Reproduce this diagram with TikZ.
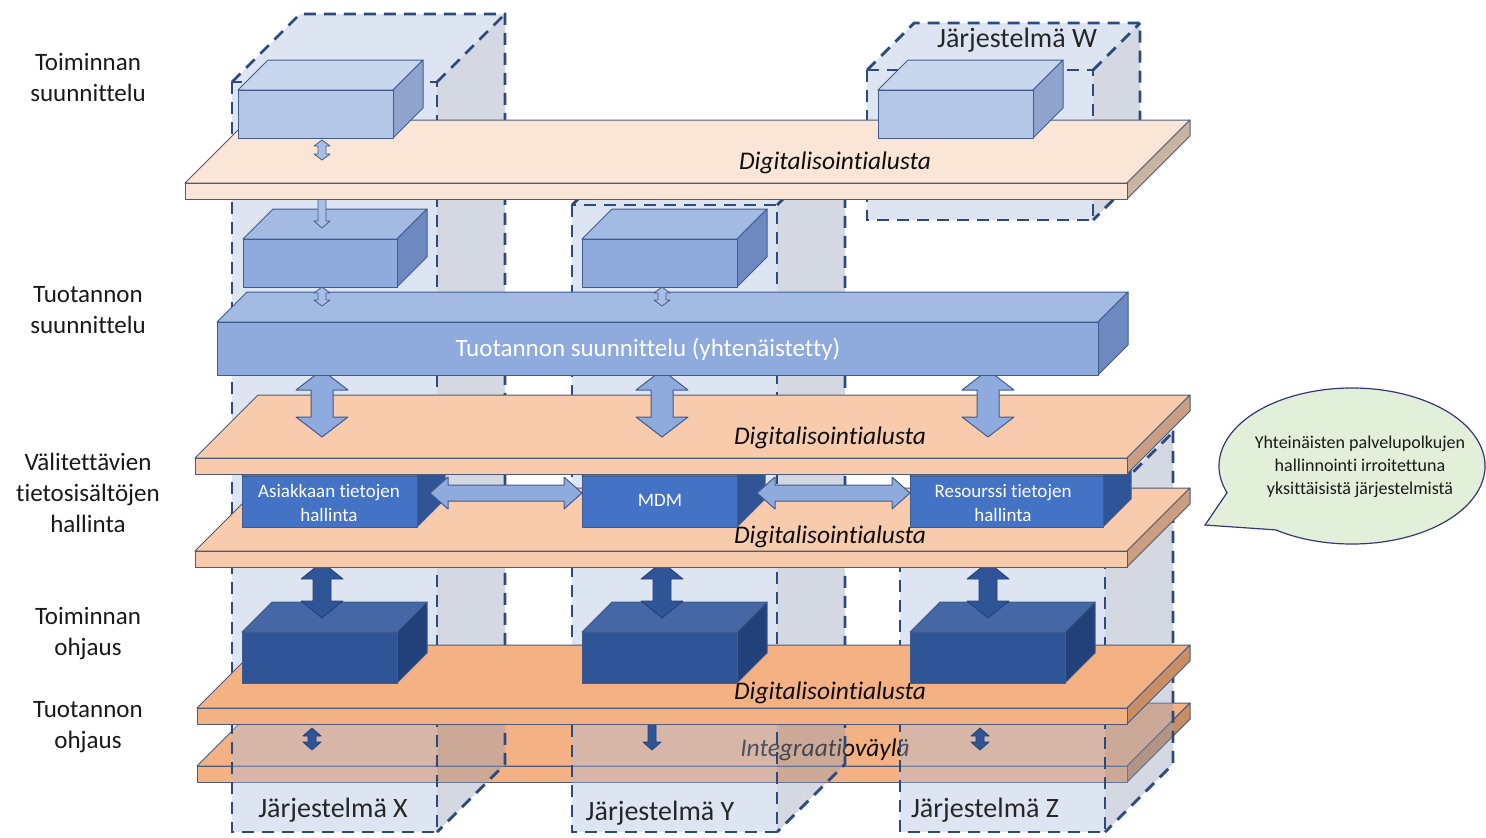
\documentclass[tikz,border=0pt]{standalone}
\usepackage{fontspec}
\setmainfont{Carlito}[Ligatures=NoCommon]
\usepackage{xcolor}

\definecolor{sysblue}{HTML}{2E4A7D}
\definecolor{sysfill}{HTML}{ACBEDE}
\definecolor{sysshade}{HTML}{919EB7}
\definecolor{edgeblue}{HTML}{3F5C8F}
\definecolor{slabline}{HTML}{4D5B78}
\definecolor{peachA}{HTML}{FBE5D6}
\definecolor{peachAside}{HTML}{C8B2A2}
\definecolor{peachB}{HTML}{F8CBAD}
\definecolor{peachBside}{HTML}{C99E82}
\definecolor{peachC}{HTML}{F4B183}
\definecolor{peachCside}{HTML}{C98E63}
\definecolor{paleA}{HTML}{B4C7E7}
\definecolor{paleAtop}{HTML}{C8D6EE}
\definecolor{paleAside}{HTML}{8EA4CD}
\definecolor{midA}{HTML}{8FAADC}
\definecolor{midAtop}{HTML}{A3BAE3}
\definecolor{midAside}{HTML}{6E89C0}
\definecolor{strongA}{HTML}{4472C4}
\definecolor{strongAtop}{HTML}{5A82C9}
\definecolor{strongAside}{HTML}{2F5597}
\definecolor{deepA}{HTML}{2F5597}
\definecolor{deepAtop}{HTML}{4667A6}
\definecolor{deepAside}{HTML}{22417A}
\definecolor{bubblefill}{HTML}{E2EFD9}

\tikzstyle{boxedge}=[draw=edgeblue, line width=0.5pt, line join=round]
\tikzstyle{slabedge}=[draw=slabline, line width=0.5pt, line join=round]
\tikzstyle{sysfront}=[fill=sysfill, fill opacity=0.4]
\tikzstyle{sysside}=[fill=sysshade, fill opacity=0.4]
\tikzstyle{sysline}=[draw=sysblue, line width=1.4pt, dash pattern=on 6pt off 4pt]
\tikzstyle{lightarrow}=[fill=midA, draw=edgeblue, line width=0.5pt, line join=round]
\tikzstyle{palearrow}=[fill=paleA!70!midA, draw=edgeblue, line width=0.4pt, line join=round]
\tikzstyle{darkarrow}=[fill=deepA, draw=deepAside, line width=0.4pt, line join=round]
\tikzstyle{layertext}=[align=center, text=black!90, font=\fontsize{12.5}{15.5}\selectfont]
\tikzstyle{slabtext}=[text=black!95, font=\fontsize{12.7}{15}\selectfont\itshape]
\tikzstyle{systext}=[text=black!85, font=\fontsize{14}{16}\selectfont]
\tikzstyle{boxtext}=[align=center, text=white, font=\fontsize{9.5}{12}\selectfont]
\tikzstyle{bigboxtext}=[text=white, font=\fontsize{12.5}{15}\selectfont]
\tikzstyle{bubbleshape}=[draw=gray!60!blue!70!black, fill=bubblefill, line width=0.6pt]
\tikzstyle{bubbletext}=[align=center, text=black!90, font=\fontsize{9}{11.5}\selectfont]

% front top-left x,y / front bottom-right x,y / depth
\newcommand{\cuboid}[8]{%
  \filldraw[boxedge,fill=#1] (#4,#5) -- (#4+#8,#5-#8) -- (#6+#8,#5-#8) -- (#6,#5) -- cycle;
  \filldraw[boxedge,fill=#3] (#6,#5) -- (#6+#8,#5-#8) -- (#6+#8,#7-#8) -- (#6,#7) -- cycle;
  \filldraw[boxedge,fill=#2] (#4,#5) rectangle (#6,#7);
}
\newcommand{\slab}[6]{%
  \filldraw[slabedge,fill=#1] (#3,#4) -- (#3+#6,#4-#6) -- (#5+#6,#4-#6) -- (#5,#4) -- cycle;
  \filldraw[slabedge,fill=#2] (#5,#4) -- (#5+#6,#4-#6) -- (#5+#6,#4-#6+16) -- (#5,#4+16) -- cycle;
  \filldraw[slabedge,fill=#1] (#3,#4) rectangle (#5,#4+16);
}
\newcommand{\sysprism}[5]{%
  \fill[sysfront] (#1,#2) rectangle (#3,#4);
  \fill[sysside] (#3,#2) -- (#3+#5,#2-#5) -- (#3+#5,#4-#5) -- (#3,#4) -- cycle;
  \fill[sysfront] (#1,#2) -- (#1+#5,#2-#5) -- (#3+#5,#2-#5) -- (#3,#2) -- cycle;
  \draw[sysline] (#1,#2) rectangle (#3,#4);
  \draw[sysline] (#1,#2) -- (#1+#5,#2-#5) -- (#3+#5,#2-#5) -- (#3+#5,#4-#5) -- (#3,#4);
  \draw[sysline] (#3,#2) -- (#3+#5,#2-#5);
}
\newcommand{\vdarrow}[7]{%
  \filldraw[#1] (#2,#3) -- (#2+#6,#3+#7) -- (#2+#5,#3+#7) -- (#2+#5,#4-#7) -- (#2+#6,#4-#7)
    -- (#2,#4) -- (#2-#6,#4-#7) -- (#2-#5,#4-#7) -- (#2-#5,#3+#7) -- (#2-#6,#3+#7) -- cycle;
}
\newcommand{\hdarrow}[7]{%
  \filldraw[#1] (#3,#2) -- (#3+#7,#2-#6) -- (#3+#7,#2-#5) -- (#4-#7,#2-#5) -- (#4-#7,#2-#6)
    -- (#4,#2) -- (#4-#7,#2+#6) -- (#4-#7,#2+#5) -- (#3+#7,#2+#5) -- (#3+#7,#2+#6) -- cycle;
}

\begin{document}
\begin{tikzpicture}[x=0.5pt,y=-0.5pt]
  \useasboundingbox (0,0) rectangle (1486,837);

  \slab{peachC}{peachCside}{197}{766}{1127}{63}
  \node[slabtext] (bus) at (825,750) {Integraatioväylä};

  \sysprism{232}{82}{437}{832}{68}
  \sysprism{572}{205}{777}{832}{68}
  \sysprism{900}{500}{1105}{832}{68}
  \sysprism{867}{70}{1093}{220}{47}
  \node[systext] (sysX) at (333,810) {Järjestelmä X};
  \node[systext] (sysY) at (660,813) {Järjestelmä Y};
  \node[systext] (sysZ) at (985,810) {Järjestelmä Z};
  \node[systext] (sysW) at (1017,40) {Järjestelmä W};

  \vdarrow{darkarrow}{312}{728}{750}{4}{9}{8}
  \vdarrow{darkarrow}{652}{712}{750}{4}{9}{8}
  \vdarrow{darkarrow}{980}{728}{750}{4}{9}{8}

  \slab{peachC}{peachCside}{197}{708}{1127}{63}
  \node[slabtext] (dig4) at (830,693) {Digitalisointialusta};
  \cuboid{deepAtop}{deepA}{deepAside}{242}{632}{397}{683}{30}
  \cuboid{deepAtop}{deepA}{deepAside}{582}{632}{737}{683}{30}
  \cuboid{deepAtop}{deepA}{deepAside}{910}{632}{1065}{683}{30}
  \vdarrow{darkarrow}{322}{562}{618}{9}{21}{17}
  \vdarrow{darkarrow}{662}{562}{618}{9}{21}{17}
  \vdarrow{darkarrow}{988}{562}{618}{9}{21}{17}

  \slab{peachB}{peachBside}{195}{551}{1127}{63}
  \node[slabtext] (dig3) at (830,537) {Digitalisointialusta};
  \cuboid{strongAtop}{strongA}{strongAside}{242}{476}{417}{527}{28}
  \cuboid{strongAtop}{strongA}{strongAside}{582}{476}{737}{527}{28}
  \cuboid{strongAtop}{strongA}{strongAside}{910}{476}{1103}{527}{28}
  \node[boxtext] (cust) at (329,503) {Asiakkaan tietojen\\hallinta};
  \node[boxtext] (mdm) at (660,500) {MDM};
  \node[boxtext] (res) at (1003,503) {Resourssi tietojen\\hallinta};
  \hdarrow{lightarrow}{493}{430}{582}{8}{16}{18}
  \hdarrow{lightarrow}{493}{757}{910}{8}{16}{18}

  \slab{peachB}{peachBside}{195}{458}{1127}{63}
  \node[slabtext] (dig2) at (830,438) {Digitalisointialusta};
  \vdarrow{lightarrow}{322}{370}{437}{11}{26}{20}
  \vdarrow{lightarrow}{662}{370}{437}{11}{26}{20}
  \vdarrow{lightarrow}{988}{370}{437}{11}{26}{20}

  \cuboid{midAtop}{midA}{midAside}{217}{322}{1098}{375}{30}
  \node[bigboxtext] (plan) at (648,349) {Tuotannon suunnittelu (yhtenäistetty)};
  \cuboid{midAtop}{midA}{midAside}{243}{239}{397}{287}{30}
  \cuboid{midAtop}{midA}{midAside}{582}{239}{737}{287}{30}
  \vdarrow{palearrow}{322}{287}{306}{4}{8}{6}
  \vdarrow{palearrow}{662}{287}{306}{4}{8}{6}
  \vdarrow{palearrow}{322}{186}{228}{4}{8}{7}

  \slab{peachA}{peachAside}{185}{183}{1127}{63}
  \node[slabtext] (dig1) at (835,163) {Digitalisointialusta};
  \cuboid{paleAtop}{paleA}{paleAside}{238}{90}{393}{138}{30}
  \cuboid{paleAtop}{paleA}{paleAside}{878}{90}{1033}{138}{30}
  \vdarrow{palearrow}{322}{140}{160}{4}{8}{6}

  \node[layertext] (lay1) at (88,77) {Toiminnan\\suunnittelu};
  \node[layertext] (lay2) at (88,310) {Tuotannon\\suunnittelu};
  \node[layertext] (lay3) at (88,493) {Välitettävien\\tietosisältöjen\\hallinta};
  \node[layertext] (lay4) at (88,634) {Toiminnan\\ohjaus};
  \node[layertext] (lay5) at (88,727) {Tuotannon\\ohjaus};

  \draw[bubbleshape] (1352,466) ++(160:133 and 78) arc[start angle=160, end angle=485, x radius=133, y radius=78] -- (1205,525) -- cycle;
  \node[bubbletext] (bubble) at (1360,467) {Yhteinäisten palvelupolkujen\\hallinnointi irroitettuna\\yksittäisistä järjestelmistä};
\end{tikzpicture}
\end{document}
